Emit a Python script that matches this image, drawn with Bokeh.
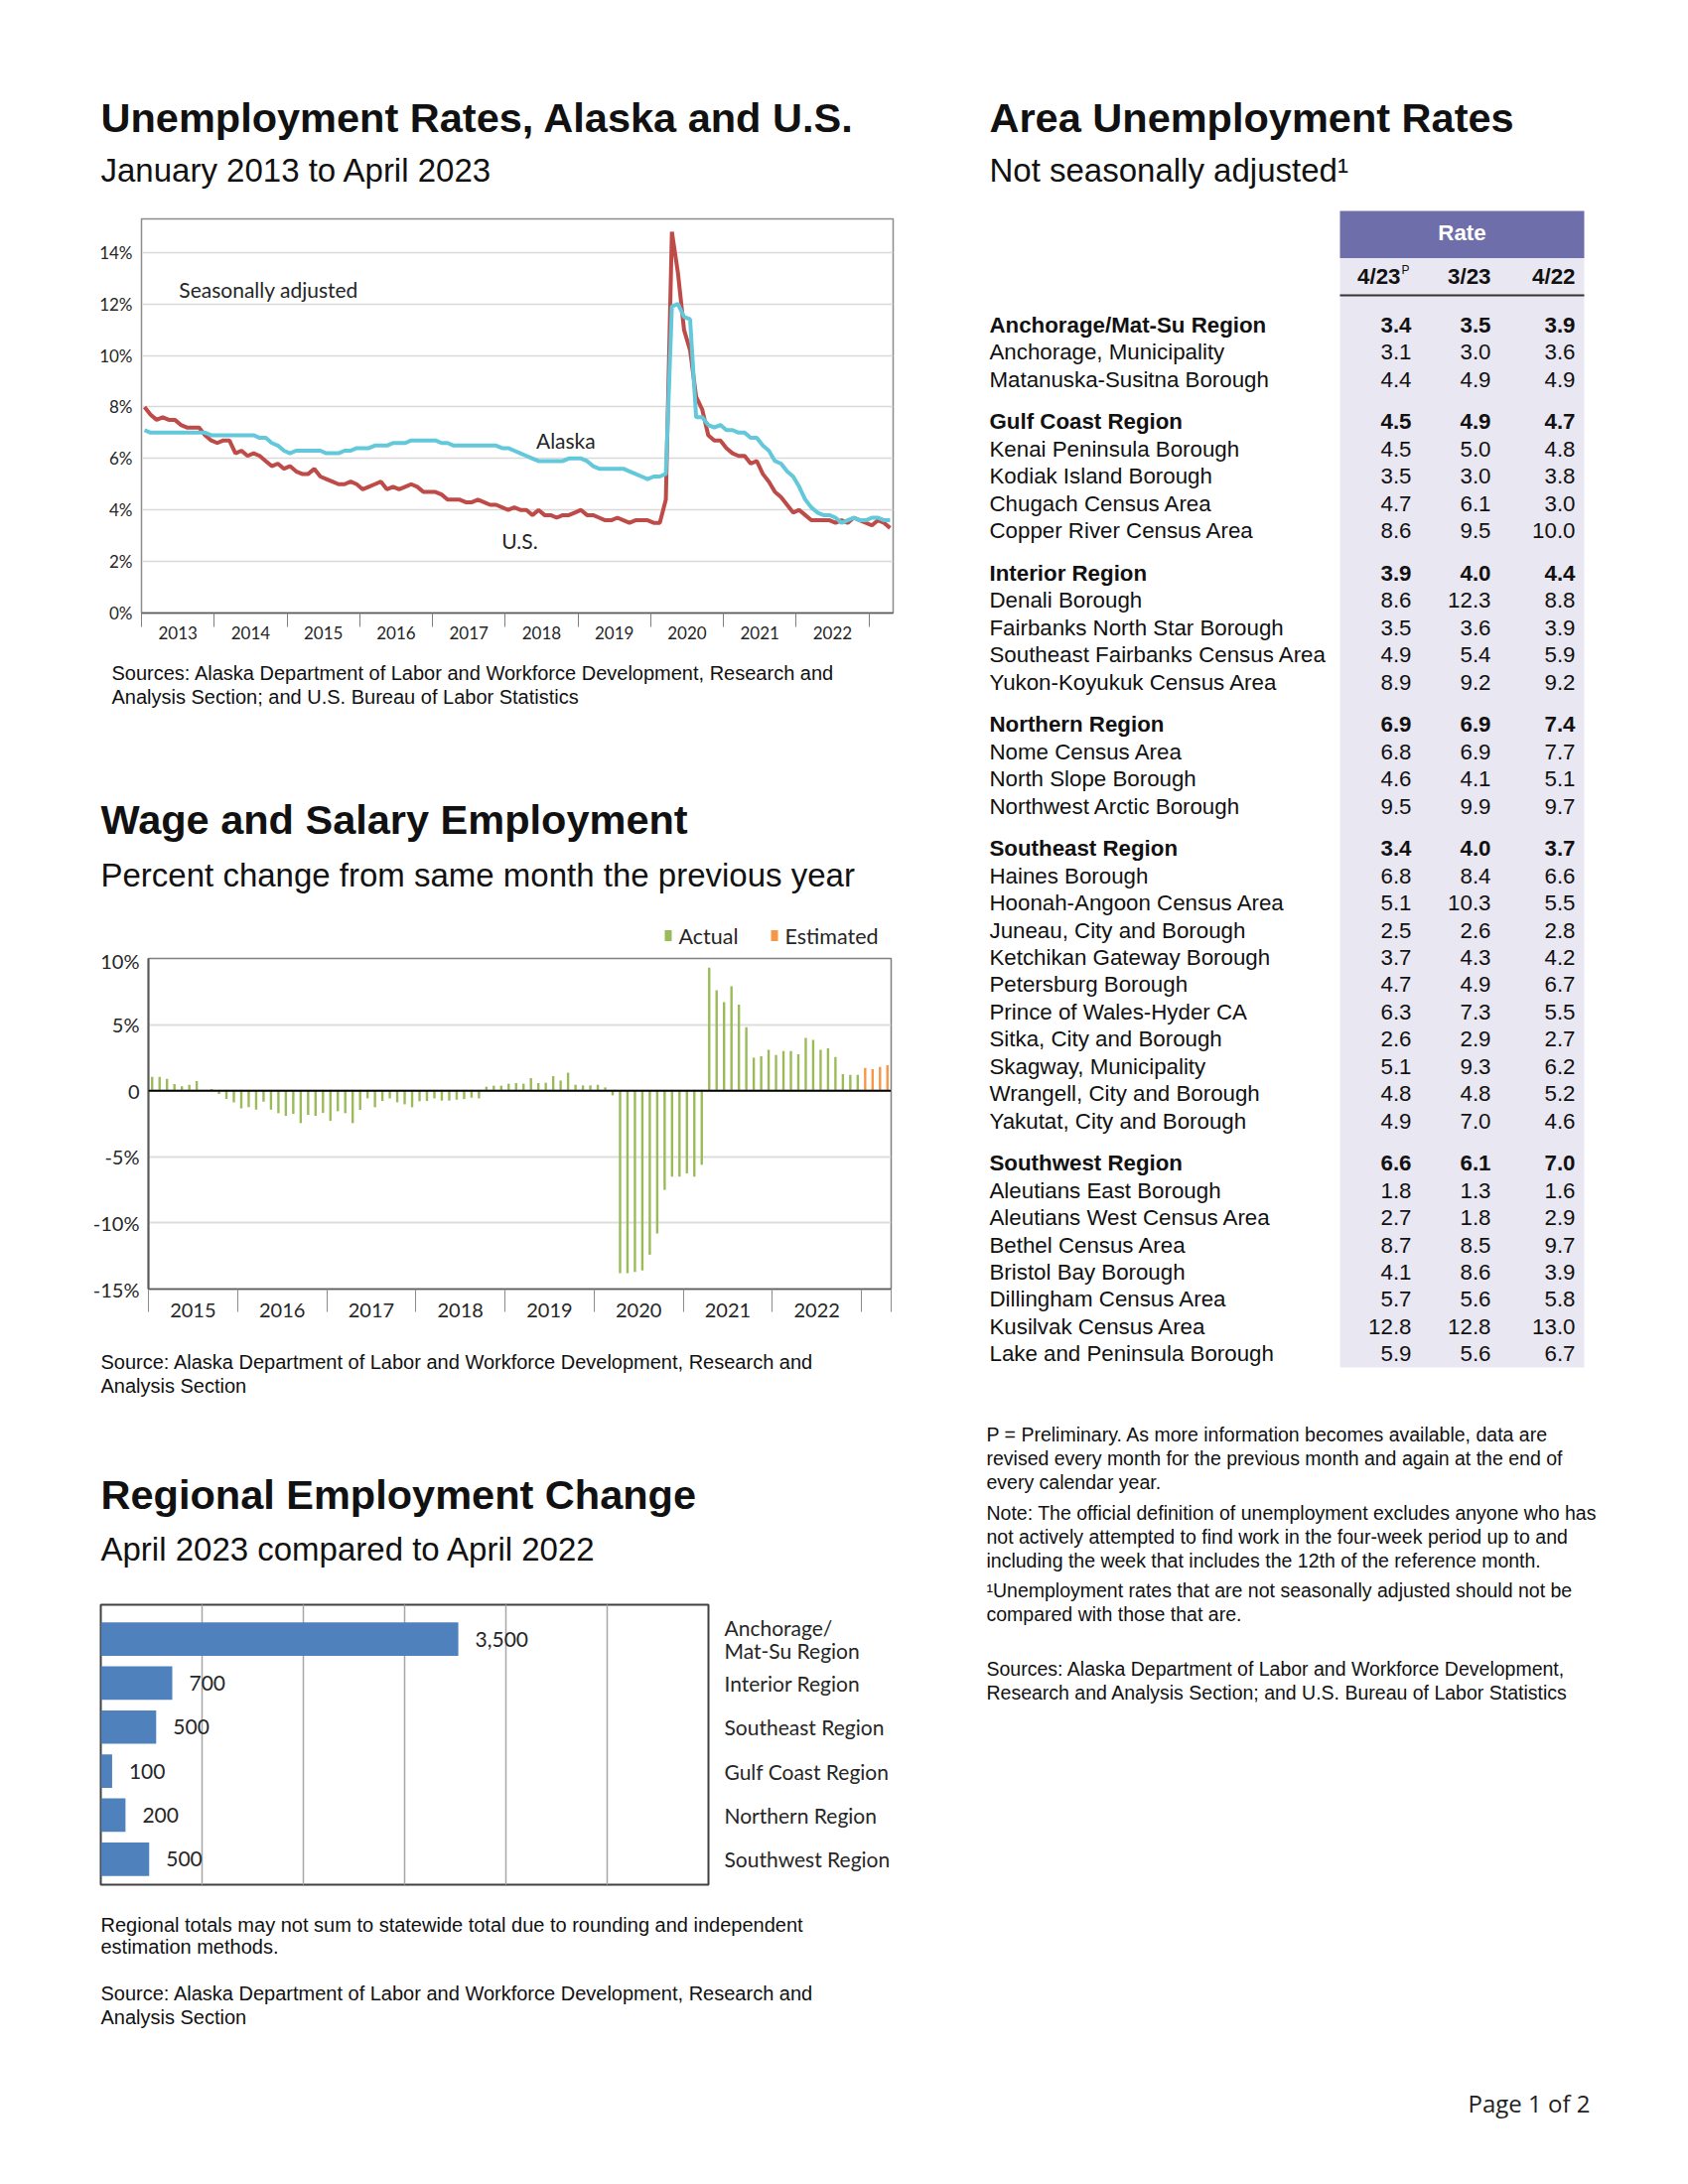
from bokeh.plotting import figure
from bokeh.models import Range1d, FixedTicker, PrintfTickFormatter, Span, Grid
from bokeh.layouts import column, row
from bokeh.embed import file_html
from bokeh.resources import INLINE
from bokeh.core.properties import value

ARIAL = "Liberation Sans"
CAL = "Lato"

# ---------------- Chart 1 data: unemployment rates, Jan 2013 - Apr 2023 ----------------
years1 = [2013, 2014, 2015, 2016, 2017, 2018, 2019, 2020, 2021, 2022]
us_rate = [
    8.0, 7.7, 7.5, 7.6, 7.5, 7.5, 7.3, 7.2, 7.2, 7.2, 6.9, 6.7,
    6.6, 6.7, 6.7, 6.2, 6.3, 6.1, 6.2, 6.1, 5.9, 5.7, 5.8, 5.6,
    5.7, 5.5, 5.4, 5.4, 5.6, 5.3, 5.2, 5.1, 5.0, 5.0, 5.1, 5.0,
    4.8, 4.9, 5.0, 5.1, 4.8, 4.9, 4.8, 4.9, 5.0, 4.9, 4.7, 4.7,
    4.7, 4.6, 4.4, 4.4, 4.4, 4.3, 4.3, 4.4, 4.3, 4.2, 4.2, 4.1,
    4.0, 4.1, 4.0, 4.0, 3.8, 4.0, 3.8, 3.8, 3.7, 3.8, 3.8, 3.9,
    4.0, 3.8, 3.8, 3.7, 3.6, 3.6, 3.7, 3.6, 3.5, 3.6, 3.6, 3.6,
    3.5, 3.5, 4.4, 14.8, 13.2, 11.0, 10.2, 8.4, 7.9, 6.9, 6.7, 6.7,
    6.4, 6.2, 6.1, 6.1, 5.8, 5.9, 5.4, 5.1, 4.7, 4.5, 4.2, 3.9,
    4.0, 3.8, 3.6, 3.6, 3.6, 3.6, 3.5, 3.6, 3.5, 3.7, 3.6, 3.5,
    3.4, 3.6, 3.5, 3.3,
]
alaska_rate = [
    7.1, 7.0, 7.0, 7.0, 7.0, 7.0, 7.0, 7.0, 7.0, 7.0, 7.0, 6.9,
    6.9, 6.9, 6.9, 6.9, 6.9, 6.9, 6.9, 6.8, 6.8, 6.6, 6.5, 6.3,
    6.2, 6.3, 6.3, 6.3, 6.3, 6.3, 6.2, 6.2, 6.2, 6.3, 6.3, 6.4,
    6.4, 6.4, 6.5, 6.5, 6.5, 6.6, 6.6, 6.6, 6.7, 6.7, 6.7, 6.7,
    6.7, 6.6, 6.6, 6.5, 6.5, 6.5, 6.5, 6.5, 6.5, 6.5, 6.5, 6.4,
    6.4, 6.3, 6.2, 6.1, 6.0, 5.9, 5.9, 5.9, 5.9, 5.9, 6.0, 6.0,
    6.0, 5.9, 5.7, 5.6, 5.6, 5.6, 5.6, 5.6, 5.5, 5.4, 5.3, 5.2,
    5.3, 5.3, 5.4, 11.9, 12.0, 11.5, 11.4, 7.6, 7.6, 7.3, 7.2, 7.3,
    7.1, 7.1, 7.0, 7.0, 6.8, 6.8, 6.5, 6.3, 5.9, 5.8, 5.5, 5.3,
    4.9, 4.4, 4.1, 3.9, 3.8, 3.8, 3.7, 3.5, 3.6, 3.7, 3.6, 3.6,
    3.7, 3.7, 3.6, 3.6,
]
ticks1 = [0, 2, 4, 6, 8, 10, 12, 14]

# ---------------- Chart 2 data: wage and salary employment, % change, Jan 2015 - Apr 2023 ----------------
years2 = [2015, 2016, 2017, 2018, 2019, 2020, 2021, 2022]
actual_change = [
    1.05, 1.05, 0.9, 0.5, 0.33, 0.45, 0.73, 0.0, 0.13, -0.25, -0.63, -0.88,
    -1.33, -1.25, -1.43, -0.83, -1.43, -1.7, -1.9, -1.75, -2.45, -1.83, -1.9, -1.68,
    -2.28, -1.55, -1.7, -2.45, -1.45, -0.58, -1.25, -0.78, -0.58, -0.88, -1.03, -1.25,
    -0.8, -0.78, -0.58, -0.75, -0.75, -0.68, -0.63, -0.53, -0.58, 0.3, 0.38, 0.38,
    0.53, 0.58, 0.53, 0.95, 0.58, 0.6, 1.1, 0.77, 1.36, 0.45, 0.4, 0.4,
    0.45, 0.25, -0.35, -13.8, -13.8, -13.7, -13.6, -12.4, -10.8, -7.5, -6.5, -6.5,
    -6.25, -6.5, -5.6, 9.3, 7.6, 6.7, 7.9, 6.5, 4.8, 2.5, 2.6, 3.1,
    2.7, 3.0, 3.0, 2.75, 4.0, 3.85, 3.1, 3.2, 2.55, 1.26, 1.2, 1.2,
]
estimated_change = [1.73, 1.63, 1.8, 1.93]
ticks2 = [-15, -10, -5, 0, 5, 10]
legend2 = ["Actual", "Estimated"]
colors2 = ["#9BBB59", "#F79646"]

# ---------------- Chart 3 data: regional employment change ----------------
regions3 = ["Anchorage/\nMat-Su Region", "Interior Region", "Southeast Region",
            "Gulf Coast Region", "Northern Region", "Southwest Region"]
change3 = [3530, 706, 547, 112, 244, 478]
grid3 = [1000, 2000, 3000, 4000, 5000]

# ---------------- Table data ----------------
area_names = [
    "Anchorage/Mat-Su Region", "Anchorage, Municipality", "Matanuska-Susitna Borough",
    "Gulf Coast Region", "Kenai Peninsula Borough", "Kodiak Island Borough",
    "Chugach Census Area", "Copper River Census Area",
    "Interior Region", "Denali Borough", "Fairbanks North Star Borough",
    "Southeast Fairbanks Census Area", "Yukon-Koyukuk Census Area",
    "Northern Region", "Nome Census Area", "North Slope Borough", "Northwest Arctic Borough",
    "Southeast Region", "Haines Borough", "Hoonah-Angoon Census Area", "Juneau, City and Borough",
    "Ketchikan Gateway Borough", "Petersburg Borough", "Prince of Wales-Hyder CA",
    "Sitka, City and Borough", "Skagway, Municipality", "Wrangell, City and Borough",
    "Yakutat, City and Borough",
    "Southwest Region", "Aleutians East Borough", "Aleutians West Census Area",
    "Bethel Census Area", "Bristol Bay Borough", "Dillingham Census Area",
    "Kusilvak Census Area", "Lake and Peninsula Borough",
]
is_region = [1, 0, 0, 1, 0, 0, 0, 0, 1, 0, 0, 0, 0, 1, 0, 0, 0,
             1, 0, 0, 0, 0, 0, 0, 0, 0, 0, 0, 1, 0, 0, 0, 0, 0, 0, 0]
rate_apr23 = [3.4, 3.1, 4.4, 4.5, 4.5, 3.5, 4.7, 8.6, 3.9, 8.6, 3.5, 4.9, 8.9,
              6.9, 6.8, 4.6, 9.5, 3.4, 6.8, 5.1, 2.5, 3.7, 4.7, 6.3, 2.6, 5.1, 4.8, 4.9,
              6.6, 1.8, 2.7, 8.7, 4.1, 5.7, 12.8, 5.9]
rate_mar23 = [3.5, 3.0, 4.9, 4.9, 5.0, 3.0, 6.1, 9.5, 4.0, 12.3, 3.6, 5.4, 9.2,
              6.9, 6.9, 4.1, 9.9, 4.0, 8.4, 10.3, 2.6, 4.3, 4.9, 7.3, 2.9, 9.3, 4.8, 7.0,
              6.1, 1.3, 1.8, 8.5, 8.6, 5.6, 12.8, 5.6]
rate_apr22 = [3.9, 3.6, 4.9, 4.7, 4.8, 3.8, 3.0, 10.0, 4.4, 8.8, 3.9, 5.9, 9.2,
              7.4, 7.7, 5.1, 9.7, 3.7, 6.6, 5.5, 2.8, 4.2, 6.7, 5.5, 2.7, 6.2, 5.2, 4.6,
              7.0, 1.6, 2.9, 9.7, 3.9, 5.8, 13.0, 6.7]
col_heads = ["4/23", "3/23", "4/22"]

TXT = "#111111"
AXT = "#262626"
SRC = 20


def text_fig(w, h):
    p = figure(width=w, height=h, x_range=Range1d(0, w), y_range=Range1d(h, 0),
               x_axis_location=None, y_axis_location=None, min_border=0,
               outline_line_color=None, toolbar_location=None, output_backend="svg",
               frame_align=False)
    p.grid.visible = False
    return p


def put(p, xs, ys, texts, size, bold=False, font=ARIAL, align="left", color=TXT):
    p.text(x=xs, y=ys, text=texts, text_font=value(font), text_font_size=f"{size}px",
           text_font_style="bold" if bold else "normal", text_align=align,
           text_baseline="middle", text_color=color)


# ---------------- Left column ----------------
W_L = 968
t1 = text_fig(W_L, 200)
put(t1, [101], [118], ["Unemployment Rates, Alaska and U.S."], 41.5, bold=True)
put(t1, [101], [171], ["January 2013 to April 2023"], 33)

# Chart 1
n1 = len(us_rate)
x1 = [i + 0.5 for i in range(n1)]
p1 = figure(width=W_L, height=455, x_range=Range1d(0, n1), y_range=Range1d(0, 15.3),
            min_border_left=142, min_border_right=69, min_border_top=20, min_border_bottom=38,
            toolbar_location=None, output_backend="svg", frame_align=False)
p1.line(x1, us_rate, line_color="#BE4B48", line_width=4)
p1.line(x1, alaska_rate, line_color="#63C8DA", line_width=4)
p1.xaxis.ticker = FixedTicker(ticks=[12 * k + 6 for k in range(len(years1))],
                              minor_ticks=[12 * k for k in range(len(years1) + 1)])
p1.xaxis.major_label_overrides = {12 * k + 6: str(y) for k, y in enumerate(years1)}
p1.xaxis.major_tick_line_color = None
p1.xaxis.major_tick_out = 0
p1.xaxis.minor_tick_in = 0
p1.xaxis.minor_tick_out = 14
p1.xaxis.minor_tick_line_color = "#7F7F7F"
p1.xaxis.axis_line_color = "#595959"
p1.xaxis.axis_line_width = 1.5
p1.xaxis.major_label_standoff = -1
p1.yaxis.ticker = FixedTicker(ticks=ticks1)
p1.yaxis.formatter = PrintfTickFormatter(format="%d%%")
p1.yaxis.major_tick_line_color = None
p1.yaxis.minor_tick_line_color = None
p1.yaxis.major_tick_out = 0
p1.yaxis.major_label_standoff = 9
p1.yaxis.axis_line_color = "#8C8C8C"
for ax in (p1.xaxis[0], p1.yaxis[0]):
    ax.major_label_text_font = CAL
    ax.major_label_text_font_size = "17px"
    ax.major_label_text_color = AXT
p1.xgrid.visible = False
p1.ygrid.grid_line_color = "#D9D9D9"
p1.ygrid.grid_line_width = 1.5
p1.outline_line_color = "#8C8C8C"
p1.outline_line_width = 1.5
p1.text(x=[6.2], y=[12.55], text=["Seasonally adjusted"], text_font=value(CAL),
        text_font_size="21px", text_baseline="middle", text_align="left", text_color=AXT)
p1.text(x=[70.0, 62.4], y=[6.7, 2.8], text=["Alaska", "U.S."], text_font=value(CAL),
        text_font_size="21px", text_baseline="middle", text_align="center", text_color=AXT)

# sources of chart 1, title of chart 2 and legend of chart 2
s1 = text_fig(W_L, 300)
put(s1, [112, 112], [22.5, 46.3],
    ["Sources: Alaska Department of Labor and Workforce Development, Research and",
     "Analysis Section; and U.S. Bureau of Labor Statistics"], SRC)
put(s1, [101], [170], ["Wage and Salary Employment"], 41.5, bold=True)
put(s1, [101], [226], ["Percent change from same month the previous year"], 33)
leg_x = [669, 776]
s1.quad(left=leg_x, right=[x + 7 for x in leg_x], top=[281.5, 281.5], bottom=[292.5, 292.5],
        fill_color=colors2, line_color=None)
s1.text(x=[x + 14 for x in leg_x], y=[287, 287], text=legend2, text_font=value(CAL),
        text_font_size="21.5px", text_baseline="middle", text_align="left", text_color=AXT)

# Chart 2
n_act = len(actual_change)
n2 = n_act + len(estimated_change)
x_act = [i + 0.5 for i in range(n_act)]
x_est = [n_act + i + 0.5 for i in range(len(estimated_change))]
p2 = figure(width=W_L, height=390, x_range=Range1d(0, n2), y_range=Range1d(-15, 10),
            min_border_left=149, min_border_right=71, min_border_top=10, min_border_bottom=47,
            toolbar_location=None, output_backend="svg", frame_align=False)
p2.vbar(x=x_act, top=actual_change, width=0.32, fill_color=colors2[0], line_color=None)
p2.vbar(x=x_est, top=estimated_change, width=0.32, fill_color=colors2[1], line_color=None)
p2.add_layout(Span(location=0, dimension="width", line_color="#000000", line_width=2))
p2.xaxis.ticker = FixedTicker(ticks=[12 * k + 6 for k in range(len(years2))],
                              minor_ticks=[12 * k for k in range(len(years2) + 1)] + [n2])
p2.xaxis.major_label_overrides = {12 * k + 6: str(y) for k, y in enumerate(years2)}
p2.xaxis.major_tick_line_color = None
p2.xaxis.major_tick_out = 0
p2.xaxis.minor_tick_in = 0
p2.xaxis.minor_tick_out = 23
p2.xaxis.minor_tick_line_color = "#8C8C8C"
p2.xaxis.axis_line_color = "#595959"
p2.xaxis.axis_line_width = 1.5
p2.xaxis.major_label_standoff = -9
p2.yaxis.ticker = FixedTicker(ticks=ticks2)
p2.yaxis.formatter = PrintfTickFormatter(format="%d%%")
p2.yaxis.major_label_overrides = {0: "0"}
p2.yaxis.major_tick_line_color = None
p2.yaxis.minor_tick_line_color = None
p2.yaxis.major_tick_out = 0
p2.yaxis.major_label_standoff = 9
p2.yaxis.axis_line_color = "#595959"
p2.yaxis.axis_line_width = 2
for ax in (p2.xaxis[0], p2.yaxis[0]):
    ax.major_label_text_font = CAL
    ax.major_label_text_font_size = "20px"
    ax.major_label_text_color = AXT
p2.xgrid.visible = False
p2.ygrid.grid_line_color = "#DDDDDD"
p2.ygrid.grid_line_width = 2
p2.outline_line_color = "#7F7F7F"
p2.outline_line_width = 1.5

s2 = text_fig(W_L, 255)
put(s2, [101, 101], [26.7, 50.6],
    ["Source: Alaska Department of Labor and Workforce Development, Research and",
     "Analysis Section"], SRC)
put(s2, [101], [160], ["Regional Employment Change"], 41.5, bold=True)
put(s2, [101], [215], ["April 2023 compared to April 2022"], 33)

# Chart 3
ypos3 = [len(regions3) - 1 - i for i in range(len(regions3))]
p3 = figure(width=W_L, height=310, x_range=Range1d(0, 6000), y_range=Range1d(-0.58, 5.78),
            x_axis_location=None, y_axis_location="right",
            min_border_left=101, min_border_right=255, min_border_top=16, min_border_bottom=12,
            toolbar_location=None, output_backend="svg", frame_align=False)
p3.add_layout(Grid(dimension=0, ticker=FixedTicker(ticks=grid3),
                   grid_line_color="#A6A6A6", grid_line_width=1.5))
p3.hbar(y=ypos3, right=change3, height=0.76, fill_color="#4F81BD", line_color=None)
p3.text(x=change3, y=ypos3, text=[f"{round(v, -2):,}" for v in change3], x_offset=17,
        text_font=value(CAL), text_font_size="21px", text_baseline="middle",
        text_align="left", text_color=AXT)
p3.yaxis.ticker = FixedTicker(ticks=ypos3)
p3.yaxis.major_label_overrides = {y: r for y, r in zip(ypos3, regions3)}
p3.yaxis.major_tick_line_color = None
p3.yaxis.minor_tick_line_color = None
p3.yaxis.major_tick_out = 0
p3.yaxis.axis_line_color = None
p3.yaxis.major_label_standoff = 16
p3.yaxis.major_label_text_font = CAL
p3.yaxis.major_label_text_font_size = "21px"
p3.yaxis.major_label_text_line_height = 0.9
p3.yaxis.major_label_text_color = AXT
p3.ygrid.visible = False
p3.outline_line_color = "#404040"
p3.outline_line_width = 2

s3 = text_fig(W_L, 280)
put(s3, [101, 101], [28.4, 50.8],
    ["Regional totals may not sum to statewide total due to rounding and independent",
     "estimation methods."], SRC)
put(s3, [101, 101], [97.1, 121],
    ["Source: Alaska Department of Labor and Workforce Development, Research and",
     "Analysis Section"], SRC)

left = column(t1, p1, s1, p2, s2, p3, s3, spacing=0)

# ---------------- Right column (table) ----------------
W_R = 724
H_R = 2190
TF = 22.3
rt = text_fig(W_R, H_R)
put(rt, [28], [118], ["Area Unemployment Rates"], 41.5, bold=True)
put(rt, [28], [171], ["Not seasonally adjusted\u00b9"], 33)
band_l, band_r = 381, 627
rt.quad(left=[band_l], right=[band_r], top=[212], bottom=[259.5], fill_color="#6E6EAA", line_color=None)
rt.quad(left=[band_l], right=[band_r], top=[259.5], bottom=[1377], fill_color="#E9E7F1", line_color=None)
rt.segment(x0=[band_l], y0=[297], x1=[band_r], y1=[297], line_color="#333333", line_width=2)
put(rt, [504], [234], ["Rate"], TF, bold=True, align="center", color="#FFFFFF")
col_x = [453, 533, 618]
put(rt, [442, 533, 618], [278, 278, 278], col_heads, TF, bold=True, align="right")
put(rt, [443], [271], ["P"], 12)

row_step, group_gap, y0 = 27.42, 15.36, 326.8
ys, g = [], -1
for i, reg in enumerate(is_region):
    if reg:
        g += 1
    ys.append(y0 + i * row_step + g * group_gap)
for bold in (True, False):
    idx = [i for i in range(len(area_names)) if bool(is_region[i]) == bold]
    yy = [ys[i] for i in idx]
    put(rt, [28] * len(idx), yy, [area_names[i] for i in idx], TF, bold=bold)
    for cx, col in zip(col_x, (rate_apr23, rate_mar23, rate_apr22)):
        put(rt, [cx] * len(idx), yy, [f"{col[i]:.1f}" for i in idx], TF, bold=bold, align="right")

notes = [
    "P = Preliminary. As more information becomes available, data are",
    "revised every month for the previous month and again at the end of",
    "every calendar year.",
    "Note: The official definition of unemployment excludes anyone who has",
    "not actively attempted to find work in the four-week period up to and",
    "including the week that includes the 12th of the reference month.",
    "\u00b9Unemployment rates that are not seasonally adjusted should not be",
    "compared with those that are.",
    "Sources: Alaska Department of Labor and Workforce Development,",
    "Research and Analysis Section; and U.S. Bureau of Labor Statistics",
]
note_y = [1444.7, 1468.5, 1492.4, 1523.3, 1547.1, 1571, 1601.7, 1625.6, 1680.3, 1704.2]
put(rt, [25] * len(notes), note_y, notes, 19.5)
put(rt, [510], [2118], ["Page  1 of 2"], 24, font="Open Sans", color="#222222")

page = row(left, rt, spacing=0)
open("out.html", "w").write(file_html(page, INLINE))
